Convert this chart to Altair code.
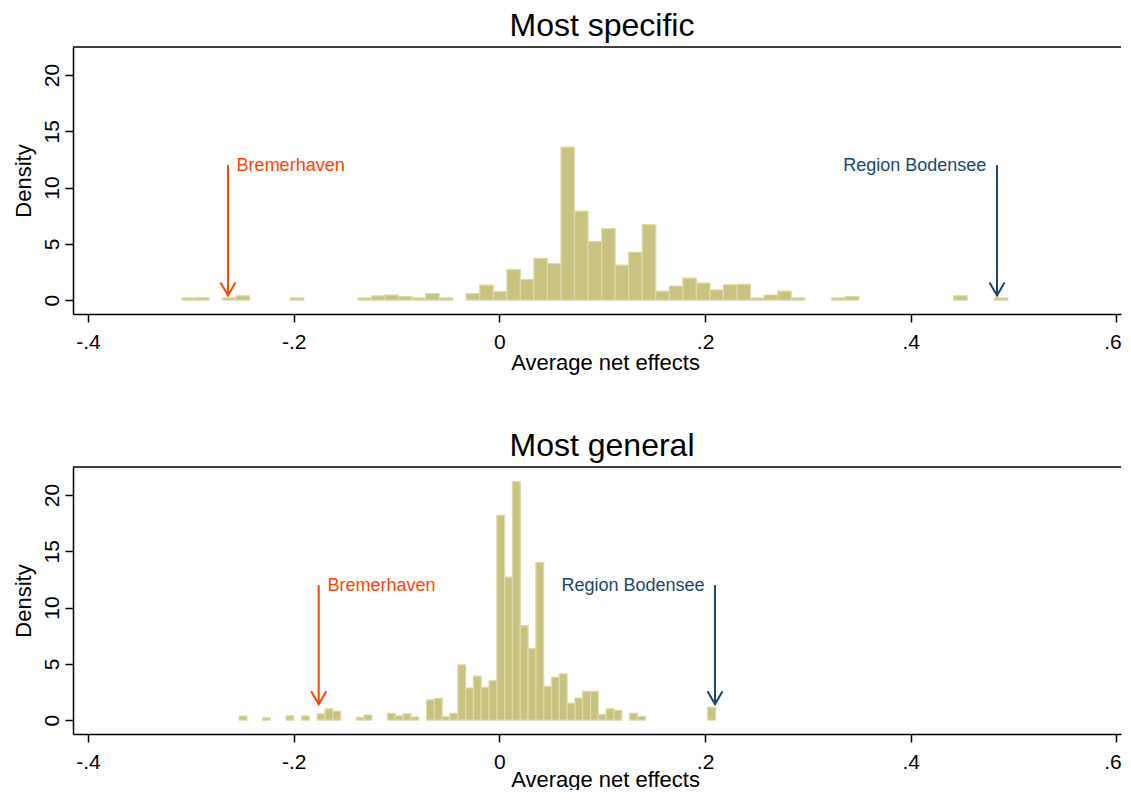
import altair as alt
import pandas as pd
import numpy as np

# ---------------- data ----------------
panel_titles = ["Most specific", "Most general"]

# histogram bins (61 bins each): first left edge and bin width
top_bin_start = -0.3087
top_bin_width = 0.013165
top_density = [
    0.19, 0.22, 0, 0.19, 0.38, 0, 0, 0, 0.19, 0,
    0, 0, 0, 0.19, 0.38, 0.45, 0.3, 0.19, 0.57, 0.19,
    0, 0.57, 1.33, 0.75, 2.7, 1.85, 3.7, 3.25, 13.6, 7.9,
    5.2, 6.35, 3.1, 4.25, 6.7, 0.8, 1.25, 1.95, 1.5, 0.9,
    1.35, 1.4, 0.19, 0.45, 0.8, 0.19, 0, 0, 0.19, 0.3,
    0, 0, 0, 0, 0, 0, 0, 0.38, 0, 0,
    0.19,
]

bottom_bin_start = -0.2531
bottom_bin_width = 0.007595
bottom_density = [
    0.35, 0, 0, 0.2, 0, 0, 0.38, 0, 0.36, 0,
    0.55, 1.0, 0.8, 0, 0, 0.25, 0.45, 0, 0, 0.6,
    0.38, 0.55, 0.27, 0, 1.8, 1.93, 0.3, 0.6, 4.9, 2.85,
    3.9, 2.9, 3.5, 18.2, 12.7, 21.2, 8.4, 6.35, 14.0, 3.0,
    3.8, 4.1, 1.5, 1.95, 2.55, 2.55, 0.5, 1.0, 0.85, 0,
    0.6, 0.33, 0, 0, 0, 0, 0, 0, 0, 0,
    1.15,
]

labels = ["Bremerhaven", "Region Bodensee"]
label_align = ["left", "right"]
# annotations: arrow x, arrow top, arrow tip, text x, text y
top_arrow_x = [-0.2639, 0.4839]
top_arrow_top = [12, 12]
top_arrow_tip = [0.4, 0.4]
top_text_x = [-0.2555, 0.4735]
top_text_y = [11.9, 11.9]

bottom_arrow_x = [-0.1757, 0.2097]
bottom_arrow_top = [12, 12]
bottom_arrow_tip = [1.4, 1.4]
bottom_text_x = [-0.1672, 0.1995]
bottom_text_y = [11.9, 11.9]

x_ticks = [-0.4, -0.2, 0, 0.2, 0.4, 0.6]
y_ticks = [0, 5, 10, 15, 20]

# ---------------- style ----------------
FONT = "Liberation Sans"
FILL = "#C9C17F"
EDGE = "#DEDAA8"
ORANGE = "#FF4500"
NAVY = "#1A476F"
PW = 1048
PH_TOP, PH_BOTTOM = 267, 267
X_DOMAIN = [-0.4146, -0.4146 + PW / 1028.4]
Y_DOMAIN = [-1.24, 22.5]


def bins_frame(start, width, dens):
    k = np.arange(len(dens))
    df = pd.DataFrame({"x0": start + k * width, "x1": start + (k + 1) * width,
                       "density": dens})
    return df[df["density"] > 0]


def ann_frame(ax, atop, atip, tx, ty):
    return pd.DataFrame({"label": labels, "align": label_align, "ax": ax,
                         "atop": atop, "atip": atip, "tx": tx, "ty": ty})


def make_x_axis(title_pad):
    return alt.Axis(
        values=x_ticks,
        labelExpr="datum.value == 0 ? '0' : (datum.value < 0 ? '-' : '') + '.' + format(abs(datum.value) * 10, '.0f')",
        labelOffset={"condition": {"test": "datum.value > 0.55", "value": -4}, "value": 0},
        title="Average net effects", titleX=532, grid=False, tickSize=8, tickWidth=1.5,
        labelPadding=9, titlePadding=title_pad, minExtent=41, maxExtent=41,
        labelFontSize=21, titleFontSize=22, labelFont=FONT, titleFont=FONT,
        titleFontWeight="normal", domainColor="black", tickColor="black",
        labelColor="black", titleColor="black", domainWidth=1.5,
        labelOverlap=False, labelFlush=False,
    )


y_axis = alt.Axis(
    values=y_ticks, title="Density", grid=False, tickSize=8, tickWidth=1.5,
    labelAngle=270, labelAlign="center", labelBaseline="alphabetic",
    labelPadding=7, titlePadding=3, minExtent=35, maxExtent=35,
    labelFontSize=21, titleFontSize=22, labelFont=FONT, titleFont=FONT,
    titleFontWeight="normal", domainColor="black", tickColor="black",
    labelColor="black", titleColor="black", domainWidth=1.5,
)
color = alt.Color("label:N", scale=alt.Scale(domain=labels, range=[ORANGE, NAVY]),
                  legend=None)


def panel(title, bins_df, ann_df, ph, title_pad):
    xs = alt.Scale(domain=X_DOMAIN, nice=False, zero=False)
    ys = alt.Scale(domain=Y_DOMAIN, nice=False, zero=False)
    bars = alt.Chart(bins_df).mark_bar(fill=FILL, stroke=EDGE, strokeWidth=1.2).encode(
        x=alt.X("x0:Q", scale=xs, axis=make_x_axis(title_pad)),
        x2="x1:Q",
        y=alt.Y("density:Q", scale=ys, axis=y_axis),
        y2=alt.datum(0),
    )
    frame_top = alt.Chart(pd.DataFrame({"a": [0]})).mark_rule(
        color="black", strokeWidth=1.5).encode(
        x=alt.value(0), x2=alt.value(PW), y=alt.value(0))
    shafts = alt.Chart(ann_df).mark_rule(strokeWidth=2).encode(
        x="ax:Q", y="atop:Q", y2="atip:Q", color=color)
    heads = alt.Chart(ann_df).mark_point(
        shape="M-0.577,-1L0,0L0.577,-1", filled=False, size=676,
        strokeWidth=2, opacity=1).encode(x="ax:Q", y="atip:Q", color=color)
    txt_left = alt.Chart(ann_df).transform_filter("datum.align == 'left'").mark_text(
        align="left", baseline="middle", fontSize=18, font=FONT).encode(
        x="tx:Q", y="ty:Q", text="label:N", color=color)
    txt_right = alt.Chart(ann_df).transform_filter("datum.align == 'right'").mark_text(
        align="right", baseline="middle", fontSize=18, font=FONT).encode(
        x="tx:Q", y="ty:Q", text="label:N", color=color)
    return alt.layer(bars, frame_top, shafts, heads, txt_left, txt_right).properties(
        width=PW, height=ph,
        title=alt.TitleParams(title, fontSize=32, font=FONT, fontWeight="normal",
                              color="black", anchor="middle", offset=3, dx=5),
    )


top = panel(panel_titles[0],
            bins_frame(top_bin_start, top_bin_width, top_density),
            ann_frame(top_arrow_x, top_arrow_top, top_arrow_tip, top_text_x, top_text_y),
            PH_TOP, -3)
bottom = panel(panel_titles[1],
               bins_frame(bottom_bin_start, bottom_bin_width, bottom_density),
               ann_frame(bottom_arrow_x, bottom_arrow_top, bottom_arrow_tip,
                         bottom_text_x, bottom_text_y),
               PH_BOTTOM, -6)

chart = alt.vconcat(top, bottom, spacing=57).properties(
    padding={"left": 4, "top": 2, "right": 0, "bottom": 0},
    background="white",
).configure_view(stroke=None)

chart.save("out.html", embed_options={"renderer": "svg", "actions": False})
